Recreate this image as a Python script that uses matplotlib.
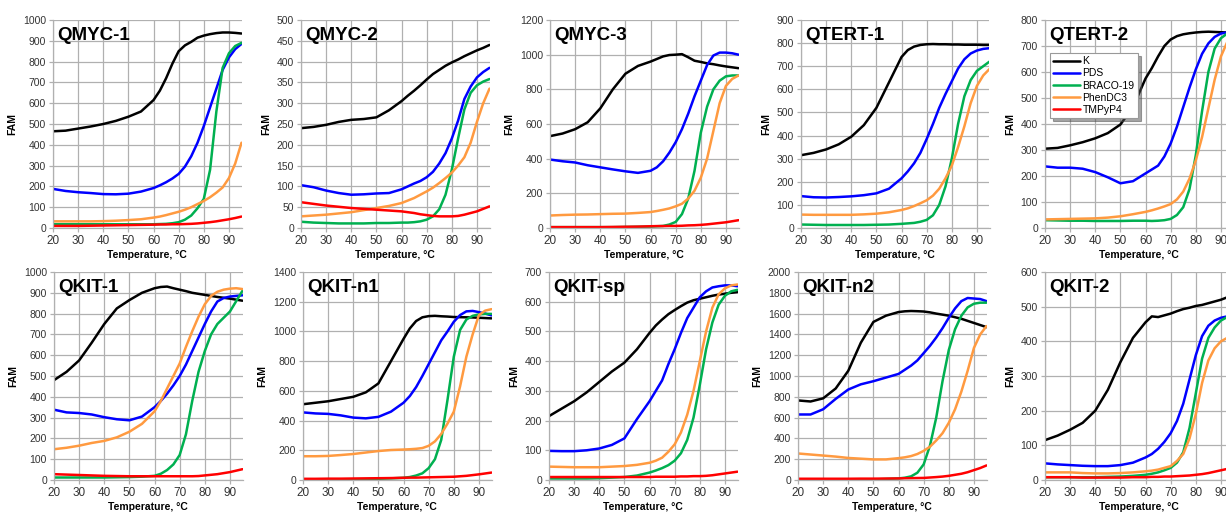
import numpy as np
import matplotlib
matplotlib.use("Agg")
import matplotlib.pyplot as plt

plt.rcParams['font.family'] = ['Liberation Sans', 'DejaVu Sans']

temps = [20, 25, 30, 35, 40, 45, 50, 55, 60, 62.5, 65, 67.5, 70, 72.5, 75,
         77.5, 80, 82.5, 85, 87.5, 90, 92.5, 95]
ligands = ["K", "PDS", "BRACO-19", "PhenDC3", "TMPyP4"]
colors = ["#000000", "#0000FF", "#00B050", "#FF9A40", "#FF0000"]
nan = float('nan')
no_data = [nan] * len(temps)

# QMYC-1
qmyc1_k = [465, 468, 478, 488, 500, 515, 535, 560, 615, 660, 720, 790, 850, 878, 895, 915, 925, 932, 937, 940, 940, 938, 935]
qmyc1_pds = [188, 178, 172, 168, 163, 162, 165, 175, 192, 205, 220, 238, 260, 295, 345, 410, 490, 580, 670, 760, 820, 860, 885]
qmyc1_braco = [18, 18, 18, 18, 18, 18, 18, 18, 18, 19, 20, 23, 28, 40, 60, 95, 140, 280, 560, 770, 840, 875, 890]
qmyc1_phen = [32, 32, 32, 32, 33, 35, 38, 42, 50, 55, 62, 70, 78, 88, 100, 115, 130, 148, 170, 195, 240, 310, 410]
qmyc1_tmpy = [10, 10, 10, 11, 12, 13, 14, 15, 16, 17, 17, 18, 18, 19, 20, 22, 25, 28, 32, 37, 42, 48, 55]

# QMYC-2
qmyc2_k = [240, 243, 248, 255, 260, 262, 266, 283, 305, 318, 330, 343, 357, 370, 380, 390, 398, 405, 413, 420, 427, 433, 440]
qmyc2_pds = [103, 98, 90, 84, 80, 81, 83, 84, 93, 100, 107, 113, 122, 135, 155, 180, 215, 258, 310, 340, 362, 375, 385]
qmyc2_braco = [15, 13, 12, 11, 11, 11, 12, 12, 13, 13, 14, 16, 20, 28, 45, 80, 140, 215, 285, 325, 343, 352, 358]
qmyc2_phen = [28, 30, 32, 35, 38, 43, 48, 53, 60, 66, 72, 80, 88, 97, 108, 120, 133, 150, 170, 205, 255, 300, 335]
qmyc2_tmpy = [62, 58, 54, 51, 48, 46, 44, 42, 40, 38, 36, 33, 31, 29, 28, 28, 28, 29, 32, 36, 40, 46, 52]

# QMYC-3
qmyc3_k = [530, 545, 570, 610, 690, 800, 890, 935, 960, 975, 990, 998, 1000, 1003, 985, 965, 958, 950, 945, 938, 932, 927, 922]
qmyc3_pds = [395, 385, 378, 362, 350, 338, 327, 318, 330, 350, 385, 435, 495, 570, 660, 760, 850, 940, 995, 1012, 1012, 1008, 1000]
qmyc3_braco = [5, 5, 5, 5, 5, 5, 6, 7, 8, 10, 12, 20, 35, 80, 170, 330, 550, 700, 800, 850, 875, 880, 880]
qmyc3_phen = [72, 75, 77, 78, 80, 82, 83, 87, 92, 98, 105, 113, 125, 140, 170, 215, 290, 400, 560, 720, 820, 860, 880]
qmyc3_tmpy = [5, 5, 5, 5, 5, 6, 7, 8, 10, 11, 11, 12, 12, 13, 15, 16, 18, 21, 25, 29, 33, 39, 45]

# QTERT-1
qtert1_k = [315, 325, 340, 362, 395, 445, 520, 630, 740, 770, 785, 792, 795, 796, 795, 795, 794, 794, 793, 793, 793, 792, 792]
qtert1_pds = [138, 133, 132, 134, 137, 142, 150, 170, 215, 245, 280, 325, 385, 450, 520, 580, 635, 690, 730, 755, 768, 775, 778]
qtert1_braco = [15, 14, 13, 13, 13, 13, 14, 15, 18, 20, 22, 27, 35, 55, 100, 180, 300, 450, 570, 640, 680, 700, 720]
qtert1_phen = [58, 57, 57, 57, 57, 59, 62, 68, 78, 85, 95, 107, 120, 140, 170, 215, 270, 350, 440, 540, 615, 660, 688]

# QTERT-2
qtert2_k = [305, 308, 318, 330, 345, 365, 398, 465, 575, 615, 660, 700, 725, 738, 745, 749, 752, 754, 755, 754, 753, 752, 750]
qtert2_pds = [237, 232, 232, 228, 215, 195, 172, 180, 210, 225, 240, 275, 325, 390, 465, 540, 610, 670, 710, 735, 748, 752, 755]
qtert2_braco = [30, 29, 28, 28, 27, 27, 27, 28, 28, 27, 28, 30, 35, 50, 80, 150, 280, 450, 600, 690, 730, 748, 755]
qtert2_phen = [33, 34, 35, 36, 37, 40, 45, 53, 62, 68, 75, 83, 92, 110, 140, 190, 260, 350, 460, 570, 660, 715, 745]

# QKIT-1
qkit1_k = [480, 520, 575, 660, 750, 825, 865, 900, 922, 928, 930, 922, 915, 908, 900, 895, 890, 885, 880, 876, 872, 867, 862]
qkit1_pds = [338, 325, 322, 315, 302, 292, 287, 305, 350, 380, 415, 455, 500, 555, 620, 685, 750, 810, 858, 875, 882, 885, 888]
qkit1_braco = [12, 12, 12, 12, 12, 13, 14, 16, 20, 30, 48, 75, 120, 220, 380, 520, 620, 700, 750, 780, 810, 860, 910]
qkit1_phen = [148, 155, 165, 178, 188, 205, 232, 270, 330, 380, 440, 500, 560, 640, 715, 785, 845, 885, 905, 915, 920, 922, 918]
qkit1_tmpy = [28, 26, 24, 22, 20, 19, 18, 18, 18, 18, 18, 18, 18, 18, 18, 19, 22, 25, 28, 33, 38, 45, 52]

# QKIT-n1
qkitn1_k = [510, 520, 530, 545, 560, 590, 650, 800, 950, 1020, 1070, 1095, 1103, 1105, 1102, 1100, 1097, 1096, 1095, 1094, 1092, 1090, 1088]
qkitn1_pds = [455, 448, 445, 435, 420, 415, 425, 460, 520, 565, 625, 700, 780, 860, 940, 1000, 1065, 1110, 1135, 1138, 1130, 1120, 1108]
qkitn1_braco = [5, 5, 5, 5, 5, 6, 8, 11, 15, 20, 30, 45, 80, 140, 270, 540, 830, 1010, 1080, 1105, 1115, 1118, 1118]
qkitn1_phen = [160, 160, 162, 168, 175, 185, 195, 202, 205, 207, 210, 215, 230, 260, 310, 380, 460, 630, 830, 980, 1110, 1140, 1150]
qkitn1_tmpy = [8, 8, 9, 9, 10, 11, 12, 13, 15, 16, 16, 17, 18, 19, 20, 21, 22, 25, 28, 33, 38, 44, 50]

# QKIT-sp
qkitsp_k = [215, 240, 265, 295, 330, 365, 395, 440, 495, 520, 540, 558, 572, 585, 597, 605, 610, 615, 620, 624, 627, 630, 632]
qkitsp_pds = [98, 97, 97, 100, 106, 118, 140, 205, 265, 300, 335, 390, 440, 495, 545, 580, 615, 635, 648, 652, 655, 655, 652]
qkitsp_braco = [5, 5, 5, 5, 6, 8, 10, 15, 25, 32, 40, 50, 65, 90, 135, 210, 320, 440, 530, 590, 620, 635, 640]
qkitsp_phen = [45, 44, 43, 43, 43, 45, 47, 51, 58, 65, 75, 95, 120, 160, 220, 300, 400, 500, 580, 625, 645, 655, 658]
qkitsp_tmpy = [10, 10, 10, 10, 10, 10, 10, 10, 10, 11, 11, 11, 11, 12, 12, 13, 13, 14, 16, 19, 22, 25, 28]

# QKIT-n2
qkitn2_k = [765, 755, 785, 880, 1050, 1320, 1520, 1580, 1615, 1622, 1625, 1623, 1620, 1612, 1600, 1590, 1580, 1565, 1550, 1530, 1510, 1490, 1470]
qkitn2_pds = [630, 630, 680, 780, 870, 920, 950, 985, 1020, 1060, 1100, 1150, 1220, 1290, 1370, 1460, 1560, 1650, 1720, 1750, 1745, 1740, 1720]
qkitn2_braco = [5, 5, 5, 5, 5, 5, 5, 10, 15, 22, 35, 70, 150, 330, 600, 950, 1250, 1450, 1580, 1660, 1695, 1705, 1705]
qkitn2_phen = [255, 245, 235, 225, 212, 205, 198, 198, 210, 218, 230, 250, 280, 320, 380, 450, 550, 680, 850, 1050, 1270, 1400, 1480]
qkitn2_tmpy = [12, 12, 12, 12, 12, 13, 13, 14, 15, 17, 18, 19, 20, 24, 28, 33, 40, 50, 60, 75, 95, 115, 140]

# QKIT-2
qkit2_k = [115, 128, 145, 165, 200, 260, 340, 410, 455, 472, 470, 475, 480, 487, 493, 497, 502, 505, 510, 515, 520, 527, 532]
qkit2_pds = [48, 45, 43, 41, 40, 40, 43, 50, 65, 75, 90, 110, 135, 170, 220, 290, 360, 415, 445, 460, 468, 472, 475]
qkit2_braco = [8, 8, 8, 8, 8, 9, 10, 12, 15, 18, 22, 28, 35, 50, 80, 150, 250, 350, 410, 440, 460, 470, 475]
qkit2_phen = [22, 22, 22, 20, 19, 19, 20, 22, 25, 27, 30, 35, 40, 55, 75, 120, 190, 280, 345, 380, 400, 410, 415]
qkit2_tmpy = [8, 8, 8, 7, 7, 7, 7, 8, 8, 9, 9, 10, 10, 11, 12, 13, 15, 17, 20, 24, 28, 32, 35]

titles = ["QMYC-1", "QMYC-2", "QMYC-3", "QTERT-1", "QTERT-2",
          "QKIT-1", "QKIT-n1", "QKIT-sp", "QKIT-n2", "QKIT-2"]
y_max = [1000, 500, 1200, 900, 800, 1000, 1400, 700, 2000, 600]
y_step = [100, 50, 200, 100, 100, 100, 200, 100, 200, 100]
series = [
    [qmyc1_k, qmyc1_pds, qmyc1_braco, qmyc1_phen, qmyc1_tmpy],
    [qmyc2_k, qmyc2_pds, qmyc2_braco, qmyc2_phen, qmyc2_tmpy],
    [qmyc3_k, qmyc3_pds, qmyc3_braco, qmyc3_phen, qmyc3_tmpy],
    [qtert1_k, qtert1_pds, qtert1_braco, qtert1_phen, no_data],
    [qtert2_k, qtert2_pds, qtert2_braco, qtert2_phen, no_data],
    [qkit1_k, qkit1_pds, qkit1_braco, qkit1_phen, qkit1_tmpy],
    [qkitn1_k, qkitn1_pds, qkitn1_braco, qkitn1_phen, qkitn1_tmpy],
    [qkitsp_k, qkitsp_pds, qkitsp_braco, qkitsp_phen, qkitsp_tmpy],
    [qkitn2_k, qkitn2_pds, qkitn2_braco, qkitn2_phen, qkitn2_tmpy],
    [qkit2_k, qkit2_pds, qkit2_braco, qkit2_phen, qkit2_tmpy],
]

W, H = 1226, 515
fig = plt.figure(figsize=(W / 100, H / 100), dpi=100)

# panel boxes in pixels: left edge, top edge
lefts = [53, 301, 550, 801, 1045, 54, 303, 549, 798, 1045]
tops = [20, 20, 20, 20, 20, 272, 272, 272, 272, 272]
pw, ph = 188.5, 208

grid_col = "#B0B0B0"
tick_col = "#333333"

for i in range(10):
    ax = fig.add_axes([lefts[i] / W, (H - tops[i] - ph) / H, pw / W, ph / H])
    for j in range(5):
        ax.plot(temps, series[i][j], color=colors[j], lw=1.8,
                label=ligands[j], solid_capstyle='round')
    ax.set_xlim(20, 95)
    ax.set_ylim(0, y_max[i])
    ax.set_xticks(np.arange(20, 91, 10))
    ax.set_yticks(np.arange(0, y_max[i] + 1, y_step[i]))
    ax.grid(True, color=grid_col, lw=0.9)
    ax.set_axisbelow(True)
    for s in ['top', 'right']:
        ax.spines[s].set_visible(False)
    for s in ['left', 'bottom']:
        ax.spines[s].set_color(grid_col)
        ax.spines[s].set_linewidth(0.9)
    ax.tick_params(length=3, width=0.9, color=grid_col,
                   labelcolor=tick_col, pad=2)
    ax.tick_params(axis='y', labelsize=7.5)
    ax.tick_params(axis='x', labelsize=8.5)
    ax.set_ylabel("FAM", fontsize=7.5, fontweight='bold', labelpad=4)
    ax.set_xlabel("Temperature, °C", fontsize=7.5, fontweight='bold', labelpad=2)
    ax.text(0.02, 0.965, titles[i], transform=ax.transAxes, fontsize=13.5,
            fontweight='bold', va='top', ha='left')
    if titles[i] == "QTERT-2":
        leg = ax.legend(loc='upper left', bbox_to_anchor=(0.0, 0.865),
                        fontsize=7.5, handlelength=2.6, labelspacing=0.2,
                        handletextpad=0.2, borderpad=0.3, fancybox=False,
                        shadow=True, framealpha=1, edgecolor="#999999")
        leg.get_frame().set_linewidth(0.8)

fig.savefig("out.png", dpi=100)
